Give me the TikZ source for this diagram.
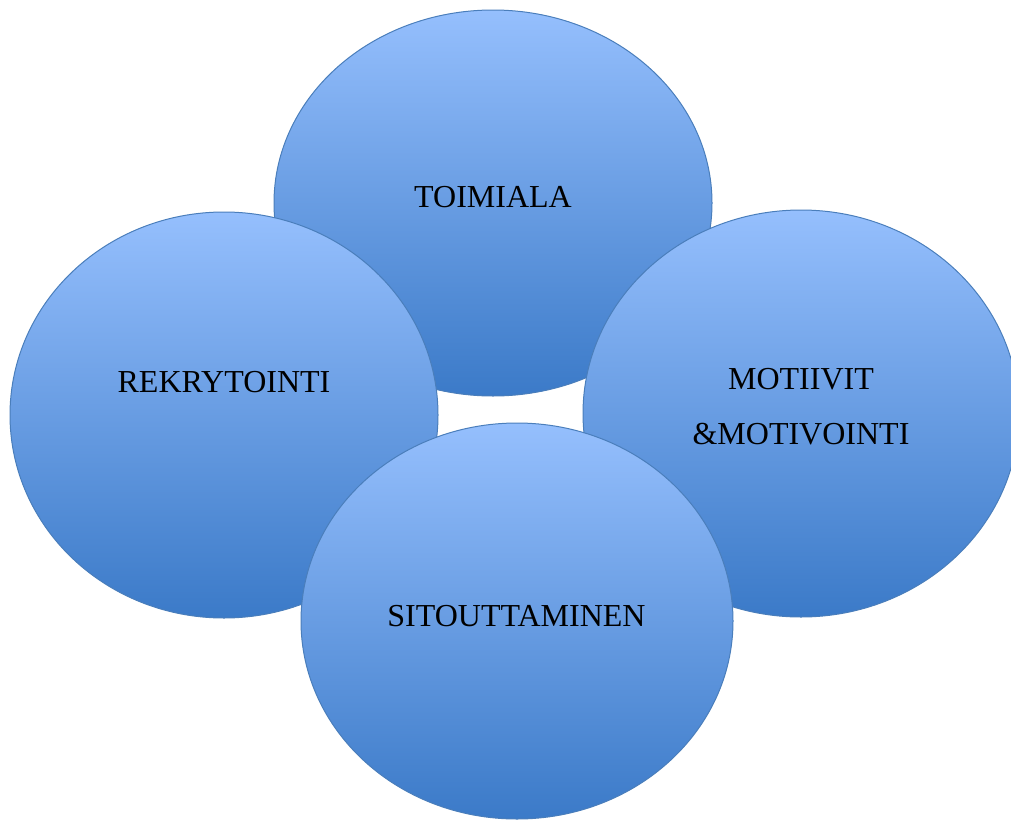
\documentclass[tikz,border=0pt]{standalone}
\usepackage{fontspec}
\setmainfont{Liberation Serif}
\usetikzlibrary{shapes.geometric}
\definecolor{topblue}{HTML}{95BFFD}
\definecolor{botblue}{HTML}{3B7AC8}
\definecolor{edgeblue}{HTML}{4A7EBB}
\tikzset{
  bubble/.style={ellipse, draw=edgeblue, line width=1pt, inner sep=0pt,
    top color=topblue, bottom color=botblue, shading=axis},
  lbl/.style={anchor=base, inner sep=0pt, font=\fontsize{32}{32}\selectfont, text=black}
}
\begin{document}
\begin{tikzpicture}[x=1pt,y=-1pt]
\useasboundingbox (0,0) rectangle (1011,819);
\clip (0,0) rectangle (1011,819);
\node[bubble, minimum width=438pt, minimum height=386pt] (toim) at (493,203) {};
\node[lbl] (toimt) at (493,207) {TOIMIALA};
\node[bubble, minimum width=428pt, minimum height=406pt] (rekr) at (224,415) {};
\node[lbl] (rekrt) at (224,392) {REKRYTOINTI};
\node[bubble, minimum width=436pt, minimum height=407pt] (moti) at (801,413.5) {};
\node[lbl] (motit1) at (801,389) {MOTIIVIT};
\node[lbl] (motit2) at (801,444) {\&MOTIVOINTI};
\node[bubble, minimum width=432pt, minimum height=396pt] (sito) at (517,621) {};
\node[lbl] (sitot) at (516.5,626) {SITOUTTAMINEN};
\end{tikzpicture}
\end{document}
